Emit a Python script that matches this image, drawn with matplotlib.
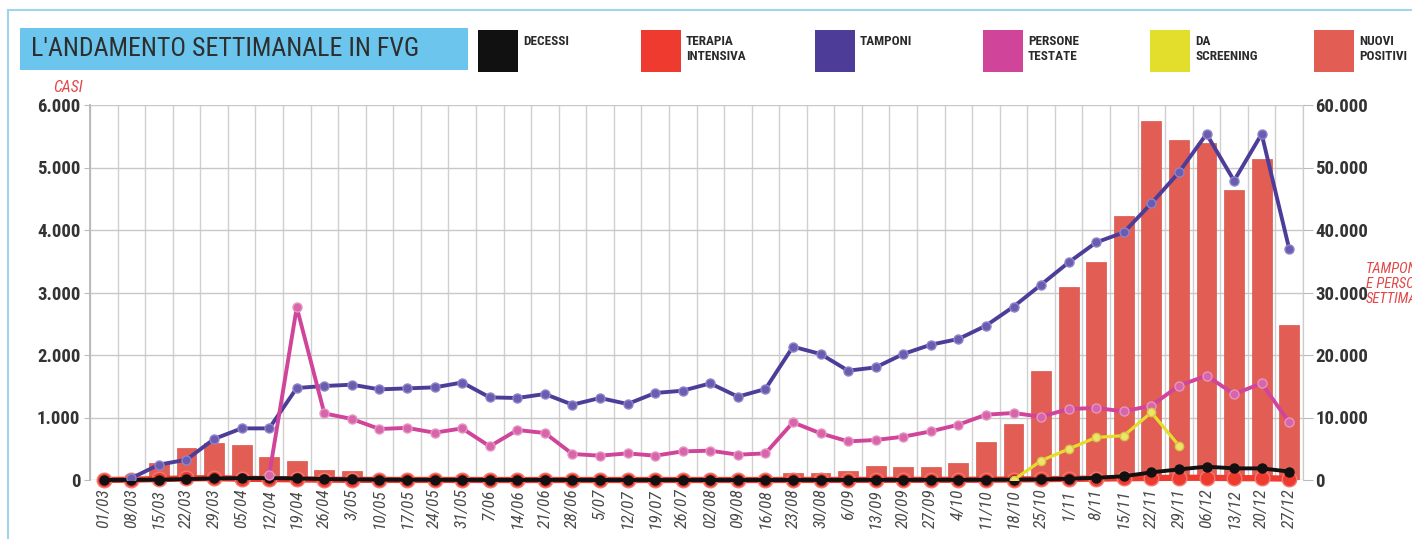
import matplotlib
matplotlib.use("Agg")
import matplotlib.pyplot as plt
import numpy as np
from matplotlib.patches import Rectangle

nan = np.nan

#######################################################################################################
# data (weekly values, Friuli Venezia Giulia 2020)
#######################################################################################################

dates = ["01/03", "08/03", "15/03", "22/03", "29/03", "05/04", "12/04", "19/04", "26/04", "3/05",
         "10/05", "17/05", "24/05", "31/05", "7/06", "14/06", "21/06", "28/06", "5/07", "12/07",
         "19/07", "26/07", "02/08", "09/08", "16/08", "23/08", "30/08", "6/09", "13/09", "20/09",
         "27/09", "4/10", "11/10", "18/10", "25/10", "1/11", "8/11", "15/11", "22/11", "29/11",
         "06/12", "13/12", "20/12", "27/12"]

# left axis (CASI)
nuovi_positivi = [0, 20, 280, 510, 585, 560, 375, 305, 160, 145,
                  40, 30, 20, 15, 10, 10, 10, 10, 10, 10,
                  10, 10, 15, 15, 20, 110, 110, 150, 220, 205,
                  215, 270, 610, 890, 1750, 3090, 3490, 4230, 5750, 5440,
                  5400, 4640, 5130, 2475]
decessi = [0, 2, 5, 15, 25, 30, 30, 25, 15, 10,
           6, 4, 3, 2, 1, 1, 1, 1, 0, 0,
           0, 0, 0, 0, 0, 1, 1, 1, 2, 2,
           3, 3, 4, 6, 10, 20, 35, 60, 122, 170,
           213, 186, 186, 135]
terapia_intensiva = [0, 5, 15, 25, 30, 20, 15, 10, 5, 3,
                     2, 1, 1, 1, 0, 0, 0, 0, 0, 0,
                     0, 0, 0, 0, 0, 1, 1, 1, 2, 2,
                     3, 3, 5, 8, 12, 18, 22, 28, 32, 35,
                     35, 30, 28, 22]

# right axis (TAMPONI E PERSONE SETTIMANALI)
tamponi = [nan, 300, 2450, 3250, 6560, 8260, 8260, 14720, 15040, 15250,
           14500, 14660, 14820, 15600, 13220, 13120, 13760, 12050, 13120, 12160,
           13920, 14290, 15460, 13330, 14560, 21330, 20160, 17490, 18020, 20160,
           21650, 22560, 24690, 27730, 31250, 34820, 38020, 39620, 44260, 49220,
           55360, 47890, 55360, 36960]
persone_testate = [nan, nan, nan, nan, nan, nan, 800, 27620, 10660, 9760,
                   8160, 8340, 7570, 8260, 5380, 8000, 7520, 4160, 3890, 4260,
                   3890, 4580, 4690, 4050, 4260, 9220, 7460, 6180, 6400, 6930,
                   7780, 8850, 10450, 10720, 10130, 11360, 11520, 10980, 11890, 15090,
                   16690, 13760, 15460, 9220]
da_screening = [nan] * 33 + [0, 3090, 4960, 6820, 7090, 10820, 5490, nan, nan, nan, nan]

legend_labels = ["DECESSI", "TERAPIA\nINTENSIVA", "TAMPONI", "PERSONE\nTESTATE", "DA\nSCREENING", "NUOVI\nPOSITIVI"]

#######################################################################################################
# style
#######################################################################################################

c_black = "#111111"
c_red = "#ee3a2f"
c_purple = "#4e3d98"
c_magenta = "#d0449a"
c_yellow = "#e3dd2b"
c_bar = "#e25e55"
c_text = "#333333"
narrow = ["Roboto Condensed", "Liberation Sans Narrow", "Roboto", "DejaVu Sans"]

W, H = 1412, 539
fig = plt.figure(figsize=(W / 100, H / 100), dpi=100)
fig.patch.set_facecolor("white")


def fx(px):
    return px / W


def fy(py):
    return (H - py) / H


def fit_width(t, target):
    # shrink / grow a text so its rendered width matches the reference
    fig.canvas.draw()
    w = t.get_window_extent().width
    t.set_fontsize(t.get_fontsize() * target / w)


# outer light blue frame and title box
fig.patches.append(Rectangle((fx(8), -0.05), 1.2, fy(10) + 0.05, transform=fig.transFigure,
                             fill=False, edgecolor="#9fd3ee", linewidth=1.5))
fig.patches.append(Rectangle((fx(20), fy(70)), fx(448), 42 / H, transform=fig.transFigure,
                             facecolor="#6cc5ec", edgecolor="none"))
title = fig.text(fx(31), fy(49), "L'ANDAMENTO SETTIMANALE IN FVG", family=narrow,
                 fontsize=20, color="#2e2e2e", va="center", ha="left")
fit_width(title, 388)

# legend squares
legend_colors = [c_black, c_red, c_purple, c_magenta, c_yellow, c_bar]
legend_x = [478, 641, 815, 983, 1150, 1314]
legend_texts = []
for col, lab, lx in zip(legend_colors, legend_labels, legend_x):
    fig.patches.append(Rectangle((fx(lx), fy(72)), fx(40), 42 / H,
                                 transform=fig.transFigure, facecolor=col, edgecolor="none"))
    legend_texts.append(fig.text(fx(lx + 45), fy(35), lab, family=narrow, fontweight="bold",
                                 fontsize=9.5, color="#2a2a2a", va="top", ha="left", linespacing=1.15))
fig.canvas.draw()
s = 63 / legend_texts[4].get_window_extent().width
for t in legend_texts:
    t.set_fontsize(t.get_fontsize() * s)

ax = fig.add_axes([fx(90), fy(480), (1303 - 90) / W, (480 - 105) / H])
ax2 = ax.twinx()

x = np.arange(len(dates))

ax.bar(x, nuovi_positivi, width=0.72, color=c_bar, edgecolor="#d9544b", linewidth=0.5, zorder=2)

ax.plot(x, terapia_intensiva, color=c_red, linewidth=4.5, marker="o", markersize=10.5,
        markerfacecolor=c_red, markeredgecolor="#f27a72", markeredgewidth=1, zorder=3, clip_on=False)
ax.plot(x, decessi, color=c_black, linewidth=2.8, marker="o", markersize=6.5,
        markerfacecolor=c_black, markeredgecolor=c_black, zorder=4, clip_on=False)

ax2.plot(x, tamponi, color=c_purple, linewidth=2.8, marker="o", markersize=6.5,
         markerfacecolor="#6a5cb0", markeredgecolor="#8f84c9", markeredgewidth=1, zorder=3)
ax2.plot(x, persone_testate, color=c_magenta, linewidth=2.8, marker="o", markersize=6.5,
         markerfacecolor="#d865aa", markeredgecolor="#e495c3", markeredgewidth=1, zorder=3)
ax2.plot(x, da_screening, color=c_yellow, linewidth=2.3, marker="o", markersize=6,
         markerfacecolor="#ebe66a", markeredgecolor="#d9c24a", markeredgewidth=1, zorder=3)

ax.set_xlim(-0.5, len(dates) - 0.5)
ax.set_ylim(0, 6000)
ax2.set_ylim(0, 60000)

ax.set_xticks(x)
ax.set_xticklabels(dates, rotation=90, family=narrow, fontsize=12.5, color="#4a4a4a", style="italic")
ax.set_xticks(np.arange(-0.5, len(dates), 1), minor=True)
ax.tick_params(axis="x", which="major", length=0, pad=6)
ax.tick_params(axis="x", which="minor", length=0)

lt = np.arange(0, 6001, 1000)
ax.set_yticks(lt)
ax.set_yticklabels([f"{v:,}".replace(",", ".") for v in lt], family=narrow,
                   fontweight="bold", fontsize=13.5, color=c_text)
ax.tick_params(axis="y", length=4, color="#bbbbbb", pad=3)

rt = np.arange(0, 60001, 10000)
ax2.set_yticks(rt)
ax2.set_yticklabels([f"{v:,}".replace(",", ".") for v in rt], family=narrow,
                    fontweight="bold", fontsize=13.5, color=c_text)
ax2.tick_params(axis="y", length=7, color="#bbbbbb", pad=2)

ax.grid(True, which="minor", axis="x", color="#d0d0d0", linewidth=1)
ax.grid(True, which="major", axis="y", color="#c8c8c8", linewidth=1)
ax.set_axisbelow(True)

for a in (ax, ax2):
    a.spines["top"].set_visible(False)
    a.spines["bottom"].set_visible(False)
    a.spines["left"].set_color("#bbbbbb")
    a.spines["right"].set_color("#cccccc")
    a.spines["left"].set_linewidth(1.2)

fig.text(fx(83), fy(88), "CASI", family=narrow, style="italic", fontsize=11.5,
         color="#e04848", ha="right", va="center")
# cut by the right edge, as in the printed chart
fig.text(fx(1366), fy(284), "TAMPONI\nE PERSONE\nSETTIMANALI", family=narrow, style="italic",
         fontsize=10.5, color="#e04848", ha="left", va="center", linespacing=1.05)

plt.savefig("out.png", dpi=100)
